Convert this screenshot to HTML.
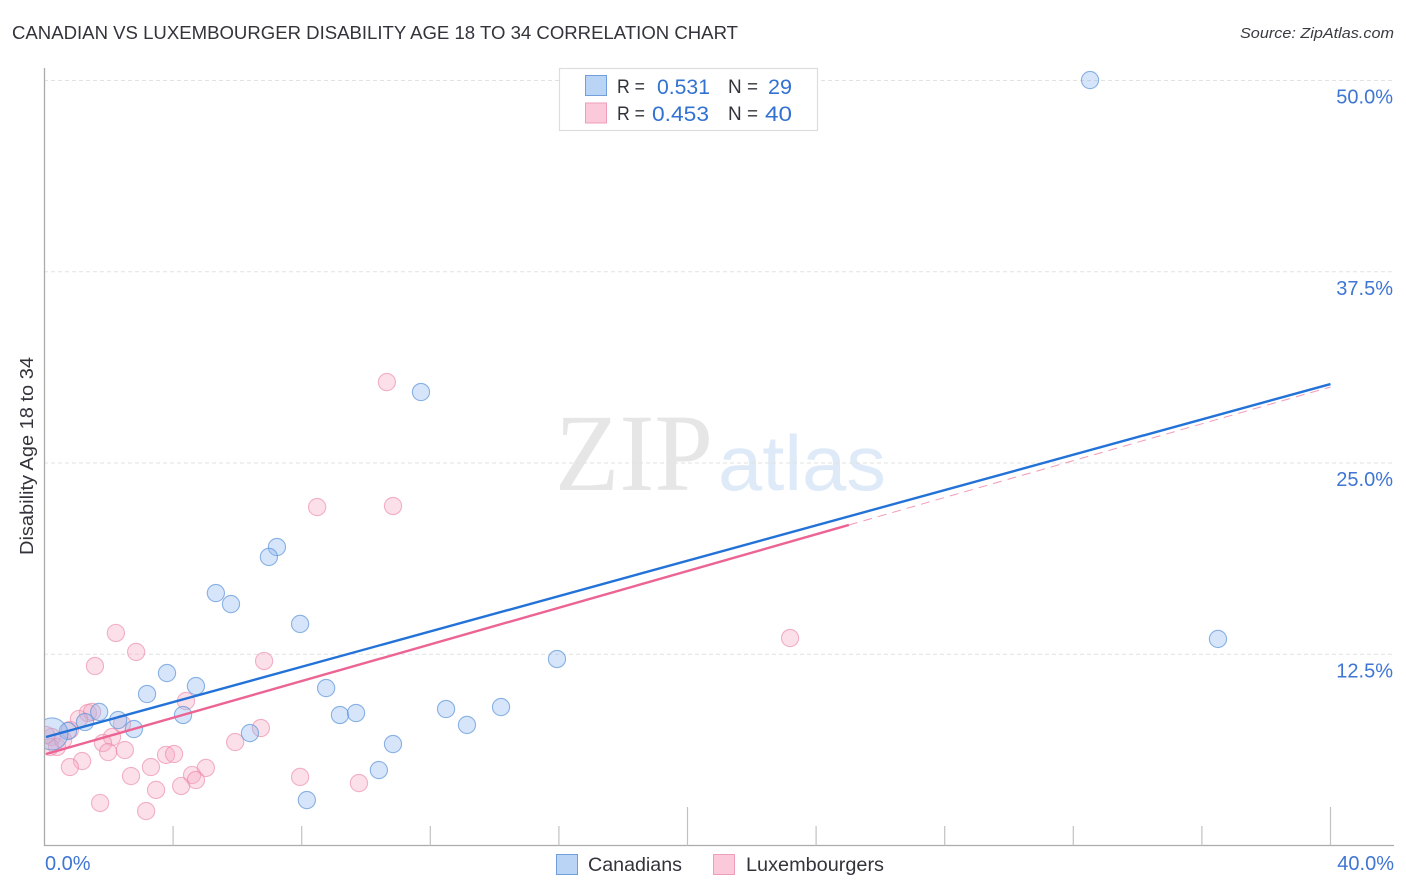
<!DOCTYPE html>
<html lang="en">
<head>
<meta charset="utf-8">
<title>Canadian vs Luxembourger Disability Age 18 to 34 Correlation Chart</title>
<style>
html,body{margin:0;padding:0;background:#fff;width:1406px;height:892px;overflow:hidden}
svg{display:block;font-family:"Liberation Sans",sans-serif}
</style>
</head>
<body>
<svg id="chart" width="1406" height="892" viewBox="0 0 1406 892" xmlns="http://www.w3.org/2000/svg">
  <rect x="0" y="0" width="1406" height="892" fill="#ffffff"/>
  <text x="12" y="39" font-size="18.5" fill="#33333b" textLength="726" lengthAdjust="spacingAndGlyphs">CANADIAN VS LUXEMBOURGER DISABILITY AGE 18 TO 34 CORRELATION CHART</text>
  <text x="1394" y="38" font-size="15" font-style="italic" fill="#3a3a42" text-anchor="end" textLength="154" lengthAdjust="spacingAndGlyphs">Source: ZipAtlas.com</text>

  <g>
    <text x="555" y="490" font-family="'Liberation Serif',serif" font-size="110" fill="#e6e6e6" textLength="158" lengthAdjust="spacingAndGlyphs">ZIP</text>
    <text x="718" y="490" font-size="78" fill="#dfeaf9" textLength="168" lengthAdjust="spacingAndGlyphs">atlas</text>
  </g>

  <g id="grid"></g>
  <g id="axes"></g>
  <g id="marks"></g>
  <g id="trends"></g>

  <text transform="translate(33 456) rotate(-90)" font-size="18.5" fill="#33333b" text-anchor="middle" textLength="198" lengthAdjust="spacingAndGlyphs">Disability Age 18 to 34</text>

  <g>
    <rect x="559.5" y="68.5" width="258" height="62" fill="#ffffff" stroke="#dddddd" stroke-width="1.2"/>
    <rect x="585.5" y="75.5" width="21" height="20" fill="#bad4f6" stroke="#6f9fdc" stroke-width="1"/>
    <rect x="585.5" y="103" width="21" height="20" fill="#fbc9da" stroke="#ef9db8" stroke-width="1"/>
    <g font-size="19.5" fill="#33333b">
      <text x="617" y="93" textLength="28" lengthAdjust="spacingAndGlyphs">R =</text>
      <text x="728" y="93" textLength="30" lengthAdjust="spacingAndGlyphs">N =</text>
      <text x="617" y="120" textLength="28" lengthAdjust="spacingAndGlyphs">R =</text>
      <text x="728" y="120" textLength="30" lengthAdjust="spacingAndGlyphs">N =</text>
    </g>
    <g font-size="21.5" fill="#3272d2">
      <text x="657" y="94" textLength="53" lengthAdjust="spacingAndGlyphs">0.531</text>
      <text x="768" y="94" textLength="24" lengthAdjust="spacingAndGlyphs">29</text>
      <text x="652" y="121" textLength="57" lengthAdjust="spacingAndGlyphs">0.453</text>
      <text x="765" y="121" textLength="27" lengthAdjust="spacingAndGlyphs">40</text>
    </g>
  </g>

  <g>
    <rect x="556.5" y="854.5" width="21" height="20" fill="#bad4f6" stroke="#6f9fdc" stroke-width="1"/>
    <text x="588" y="871" font-size="19.5" fill="#33333b" textLength="94" lengthAdjust="spacingAndGlyphs">Canadians</text>
    <rect x="713.5" y="854.5" width="21" height="20" fill="#fbc9da" stroke="#ef9db8" stroke-width="1"/>
    <text x="746" y="871" font-size="19.5" fill="#33333b" textLength="138" lengthAdjust="spacingAndGlyphs">Luxembourgers</text>
  </g>
</svg>
<script>
const canadianX = [32.52,11.71,7.23,6.98,5.33,5.80,7.95,36.50,15.94,3.81,4.71,3.19,8.76,1.70,4.31,9.19,9.69,12.49,14.20,13.14,2.29,2.78,1.26,0.73,6.39,10.84,10.40,8.16,0.23];
const canadianY = [50.03,29.64,19.51,18.86,16.50,15.78,14.48,13.50,12.19,11.27,10.42,9.90,10.29,8.73,8.53,8.53,8.66,8.92,9.05,7.88,8.20,7.61,8.07,7.48,7.35,6.63,4.93,2.97,7.29];
const luxembourgerX = [10.65,8.48,10.84,23.19,2.22,2.85,1.57,6.83,4.40,1.35,1.48,1.07,2.41,2.10,1.82,1.98,2.50,1.17,0.79,5.93,6.73,3.78,4.03,3.31,2.69,5.02,4.59,4.71,4.25,3.47,1.73,3.16,7.95,9.78,0.23,0.39,0.17,0.58,0.79,0.05];
const luxembourgerY = [30.29,22.12,22.19,13.56,13.89,12.65,11.73,12.06,9.44,8.66,8.73,8.27,7.94,7.09,6.70,6.11,6.24,5.52,5.13,6.76,7.68,5.92,5.98,5.13,4.54,5.07,4.61,4.28,3.89,3.63,2.78,2.25,4.48,4.08,7.09,6.44,6.44,6.90,7.55,7.22];
const canadianTrendX = [0, 40];
const canadianTrendY = [7.09, 30.16];
const luxembourgerTrendX = [0, 25.02];
const luxembourgerTrendY = [5.98, 20.95];
const luxembourgerExtendX = [25.02, 40];
const luxembourgerExtendY = [20.95, 29.97];
const yTicks = [12.5, 25, 37.5, 50];
const yTickLabels = ['12.5%', '25.0%', '37.5%', '50.0%'];
const xTicks = [0, 4, 8, 12, 16, 20, 24, 28, 32, 36, 40];
const xMajorTicks = [20, 40];
const xEndLabels = ['0.0%', '40.0%'];

const NS = 'http://www.w3.org/2000/svg';
const sx = v => 44.5 + v * 32.15;
const sy = v => 845.5 - v * 15.3;

function mk(parent, tag, attrs) {
  const el = document.createElementNS(NS, tag);
  for (const k in attrs) el.setAttribute(k, attrs[k]);
  parent.appendChild(el);
  return el;
}

const grid = document.getElementById('grid');
const axes = document.getElementById('axes');
const marks = document.getElementById('marks');
const trends = document.getElementById('trends');

yTicks.forEach((t, i) => {
  const line = mk(grid, 'line', {x1: 44, x2: 1393, y1: sy(t), y2: sy(t), stroke: '#e2e2e2', 'stroke-width': 1, 'stroke-dasharray': '4 3'});
  
  
  const label = mk(axes, 'text', {x: 1393, y: sy(t) + 23, 'font-size': 20, fill: '#3f76d4', 'text-anchor': 'end'});
  
  
  label.textContent = yTickLabels[i];
});

const yAxis = mk(axes, 'line', {x1: 44.5, x2: 44.5, y1: 68, y2: 846, stroke: '#ababab', 'stroke-width': 1.3});


const xAxis = mk(axes, 'line', {x1: 44, x2: 1394, y1: 845.5, y2: 845.5, stroke: '#ababab', 'stroke-width': 1.3});



xTicks.forEach(t => {
  if (t === 0) return;
  const top = xMajorTicks.includes(t) ? 807 : 826;
  const tick = mk(axes, 'line', {x1: sx(t), x2: sx(t), y1: top, y2: 845.5, stroke: '#c2c2c2', 'stroke-width': 1.2});
  
  
});

const xStart = mk(axes, 'text', {x: 45, y: 870, 'font-size': 20, fill: '#3f76d4'});


xStart.textContent = xEndLabels[0];
const xEnd = mk(axes, 'text', {x: 1394, y: 870, 'font-size': 20, fill: '#3f76d4', 'text-anchor': 'end'});


xEnd.textContent = xEndLabels[1];

const clip = mk(trends, 'clipPath', {id: 'plot-clip'});
mk(clip, 'rect', {x: 45, y: 60, width: 1350, height: 785});
marks.setAttribute('clip-path', 'url(#plot-clip)');

luxembourgerX.forEach((x, i) => {
  const dot = mk(marks, 'circle', {cx: sx(x), cy: sy(luxembourgerY[i]), r: 8.6, fill: '#f7a8c2', 'fill-opacity': 0.36, stroke: '#ec86a7', 'stroke-opacity': 0.62, 'stroke-width': 1.1});
  
  
});

canadianX.forEach((x, i) => {
  const isLarge = i === canadianX.length - 1;
  const dot = mk(marks, 'circle', {cx: sx(x), cy: sy(canadianY[i]), r: isLarge ? 16 : 8.6, fill: '#8db8ee', 'fill-opacity': 0.36, stroke: '#5d94da', 'stroke-opacity': 0.7, 'stroke-width': 1.1});
  
  
});

const lineExt = mk(trends, 'line', {x1: sx(luxembourgerExtendX[0]), y1: sy(luxembourgerExtendY[0]), x2: sx(luxembourgerExtendX[1]), y2: sy(luxembourgerExtendY[1]), stroke: '#ec6f98', 'stroke-width': 1, 'stroke-dasharray': '9 6', 'stroke-opacity': 0.7});


const lineBlue = mk(trends, 'line', {x1: sx(canadianTrendX[0]) + 1.5, y1: sy(canadianTrendY[0]), x2: sx(canadianTrendX[1]), y2: sy(canadianTrendY[1]), stroke: '#2272d8', 'stroke-width': 2.4});


const linePink = mk(trends, 'line', {x1: sx(luxembourgerTrendX[0]) + 1.5, y1: sy(luxembourgerTrendY[0]), x2: sx(luxembourgerTrendX[1]), y2: sy(luxembourgerTrendY[1]), stroke: '#ec6494', 'stroke-width': 2.4});


</script>
</body>
</html>
